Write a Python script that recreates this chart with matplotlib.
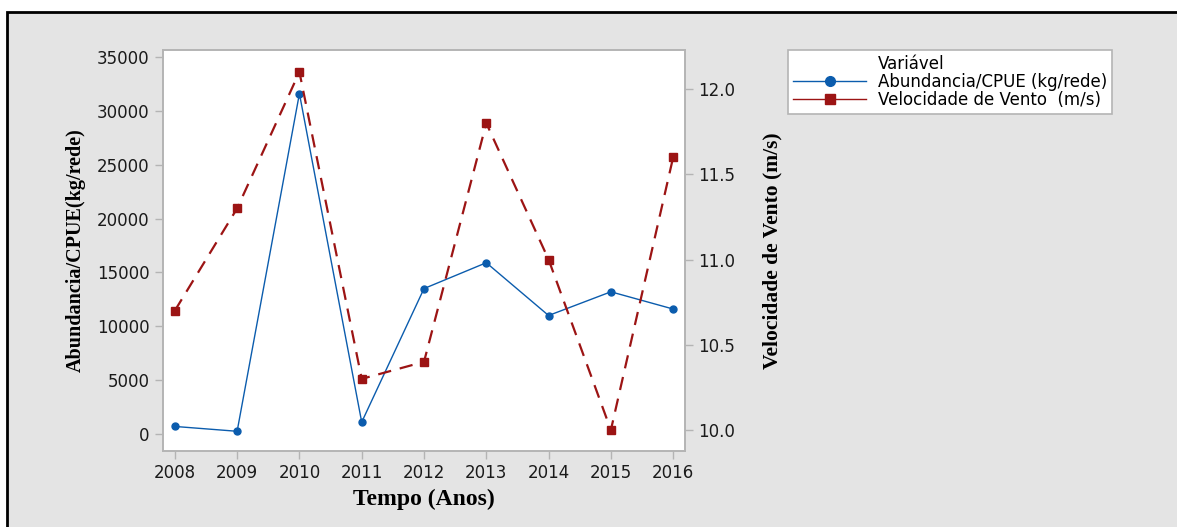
import matplotlib
matplotlib.use("Agg")
import matplotlib.pyplot as plt
from matplotlib.patches import Rectangle
from matplotlib.lines import Line2D

# values
anos = [2008, 2009, 2010, 2011, 2012, 2013, 2014, 2015, 2016]
abundancia = [700, 250, 31600, 1100, 13500, 15900, 11000, 13200, 11600]
vento = [10.7, 11.3, 12.1, 10.3, 10.4, 11.8, 11.0, 10.0, 11.6]

left_ticks = [0, 5000, 10000, 15000, 20000, 25000, 30000, 35000]
right_ticks = [10.0, 10.5, 11.0, 11.5, 12.0]

BLUE = "#0b5cad"
RED = "#9c1414"
GRAY_BG = "#e4e4e4"
SPINE = "#b4b4b4"

fig = plt.figure(figsize=(11.77, 5.27), dpi=100, facecolor="white")

# gray panel with black frame (the picture is cropped on the right/bottom)
panel = Rectangle((7 / 1177, -0.05), 1.1, (527 - 12) / 527 + 0.05,
                  transform=fig.transFigure, facecolor=GRAY_BG,
                  edgecolor="black", linewidth=2, zorder=-10)
fig.patches.append(panel)

ax = fig.add_axes([163 / 1177, 1 - 451 / 527, (685 - 163) / 1177, (451 - 50) / 527])
ax.set_facecolor("white")
ax2 = ax.twinx()

ax.plot(anos, abundancia, color=BLUE, lw=1.0, marker="o", ms=5, zorder=3)
ax2.plot(anos, vento, color=RED, lw=1.6, ls=(0, (6, 4)), marker="s", ms=6, zorder=3)

ax.set_xlim(2007.81, 2016.19)
ax.set_ylim(-1580, 35650)
ax2.set_ylim(9.877, 12.229)

ax.set_xticks(anos)
ax.set_yticks(left_ticks)
ax2.set_yticks(right_ticks)
ax2.set_yticklabels([f"{v:.1f}" for v in right_ticks])

for a in (ax, ax2):
    for s in a.spines.values():
        s.set_color(SPINE)
        s.set_linewidth(1.2)
    a.tick_params(colors=SPINE, labelcolor="#1a1a1a", labelsize=12, length=6, width=1)

ax.set_xlabel("Tempo (Anos)", family="Liberation Serif", weight="bold", fontsize=17, labelpad=5)
ax.set_ylabel("Abundancia/CPUE(kg/rede)", family="Liberation Serif", weight="bold",
              fontsize=14.5, labelpad=8)
ax2.set_ylabel("Velocidade de Vento (m/s)", family="Liberation Serif", weight="bold",
               fontsize=15.5, rotation=90, labelpad=20)

handles = [
    Line2D([], [], ls="none"),
    Line2D([], [], color=BLUE, lw=1.0, marker="o", ms=7),
    Line2D([], [], color=RED, lw=1.0, marker="s", ms=7),
]
labels = ["Variável", "Abundancia/CPUE (kg/rede)", "Velocidade de Vento  (m/s)"]
leg = fig.legend(handles, labels, loc="upper left",
                 bbox_to_anchor=(788 / 1177, 1 - 50 / 527), fontsize=12,
                 frameon=True, fancybox=False, framealpha=1, edgecolor=SPINE,
                 handlelength=4.4, handletextpad=0.7, labelspacing=0.0,
                 borderpad=0.3, borderaxespad=0)
leg.get_frame().set_linewidth(1.2)

fig.savefig("out.png", dpi=100)
